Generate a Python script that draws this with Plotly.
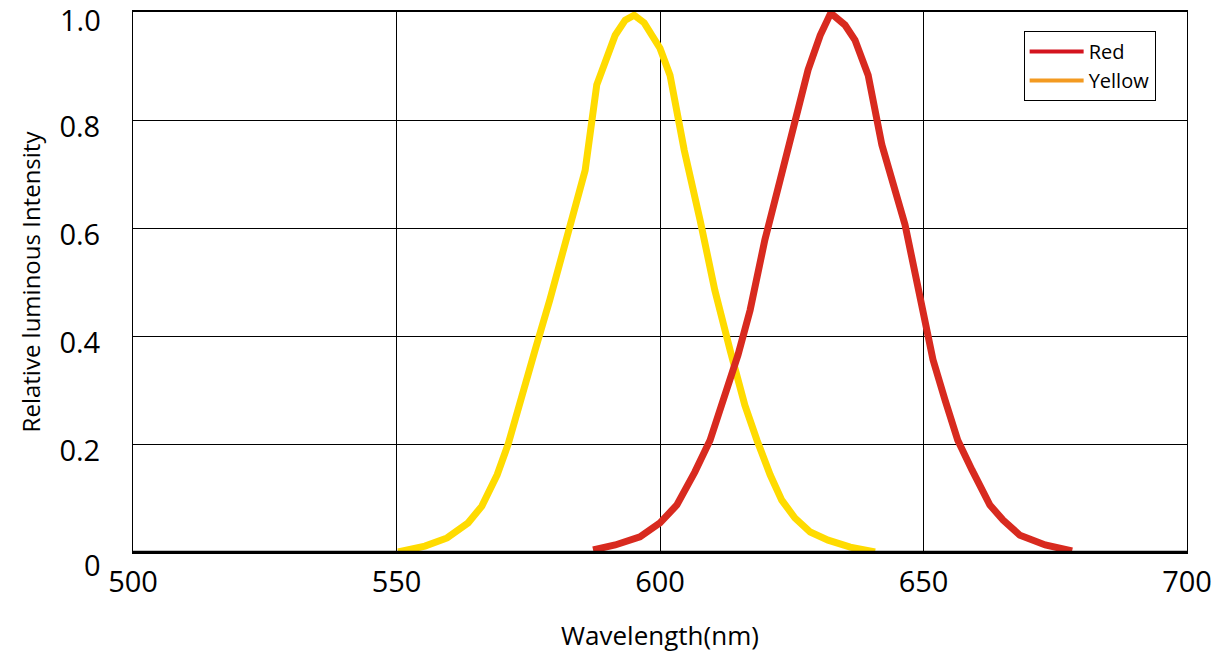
import plotly.graph_objects as go

# Spectral response, wavelength in nm vs relative luminous intensity
yellow_nm = [550.3, 555.4, 559.6, 563.6, 566.2, 569.1, 571.2, 573.4, 576.3, 579.1, 581.0, 582.9,
             585.8, 588.0, 589.6, 591.5, 593.4, 595.1, 597.0, 600.0, 601.9, 604.6, 607.6, 610.4,
             613.3, 616.1, 618.4, 620.9, 623.1, 625.6, 628.5, 631.9, 636.1, 640.8]
yellow_val = [0.0, 0.011, 0.026, 0.054, 0.085, 0.143, 0.2, 0.28, 0.374, 0.467, 0.537, 0.606,
              0.707, 0.865, 0.91, 0.957, 0.985, 0.994, 0.98, 0.933, 0.883, 0.744, 0.615, 0.485,
              0.374, 0.272, 0.207, 0.143, 0.096, 0.063, 0.037, 0.022, 0.009, 0.0]

red_nm = [587.3, 591.5, 596.2, 600.0, 603.2, 606.6, 609.5, 612.3, 614.8, 617.1, 619.9, 622.8,
          626.2, 628.1, 630.4, 632.4, 635.1, 637.0, 639.5, 642.1, 646.5, 649.3, 651.8, 654.1,
          656.5, 659.2, 662.6, 665.1, 668.3, 673.1, 678.2]
red_val = [0.004, 0.013, 0.028, 0.054, 0.087, 0.148, 0.207, 0.29, 0.365, 0.448, 0.578, 0.689,
           0.819, 0.893, 0.957, 0.998, 0.976, 0.948, 0.883, 0.754, 0.606, 0.467, 0.356, 0.281,
           0.207, 0.152, 0.087, 0.059, 0.031, 0.013, 0.002]

x_ticks = [500, 550, 600, 650, 700]
# inner y ticks are drawn by the axis; the two end labels are placed as annotations
y_ticks = [0, 0.2, 0.4, 0.6, 0.8, 1.0]
y_tick_text = ["", "0.2", "0.4", "0.6", "0.8", ""]
y_end_labels = [(0, "0"), (1.0, "1.0")]

FONT = "Open Sans, sans-serif"

fig = go.Figure()

fig.add_trace(go.Scatter(x=yellow_nm, y=yellow_val, mode="lines",
                         line=dict(color="#ffdb00", width=7), showlegend=False,
                         hoverinfo="skip"))
fig.add_trace(go.Scatter(x=red_nm, y=red_val, mode="lines",
                         line=dict(color="#d82a1f", width=7), showlegend=False,
                         hoverinfo="skip"))

# legend swatches
fig.add_trace(go.Scatter(x=[None], y=[None], mode="lines", name="Red",
                         line=dict(color="#d4141f", width=4)))
fig.add_trace(go.Scatter(x=[None], y=[None], mode="lines", name="Yellow",
                         line=dict(color="#f39a21", width=4)))

fig.update_layout(
    width=1221, height=653,
    margin=dict(l=133, r=34, t=12, b=101),
    paper_bgcolor="white", plot_bgcolor="white",
    font=dict(family=FONT, color="black"),
    legend=dict(x=0.845, y=0.965, xanchor="left", yanchor="top",
                bgcolor="white", bordercolor="black", borderwidth=1,
                font=dict(size=20, family=FONT), itemwidth=54, tracegroupgap=0),
    xaxis=dict(range=[500, 700], tickvals=x_ticks, ticktext=[str(v) for v in x_ticks],
               showgrid=True, gridcolor="black", gridwidth=1,
               showline=True, linecolor="black", linewidth=2, mirror=True,
               zeroline=False, ticks="", tickfont=dict(size=29, family=FONT),
               ticklabelstandoff=3, automargin=False,
               title=dict(text="Wavelength(nm)", font=dict(size=26, family=FONT), standoff=28)),
    yaxis=dict(range=[0, 1], tickvals=y_ticks, ticktext=y_tick_text,
               showgrid=True, gridcolor="black", gridwidth=1,
               showline=True, linecolor="black", linewidth=1, mirror=True,
               zeroline=False, ticks="", tickfont=dict(size=29, family=FONT),
               ticklabelstandoff=26, ticklabelshift=7, automargin=False,
               title=dict(text="Relative luminous Intensity", font=dict(size=24, family=FONT),
                          standoff=12)),
)

# end labels of the intensity axis: "0" drops below the baseline, "1.0" sits just under the top
fig.add_annotation(x=0, xref="paper", y=y_end_labels[0][0], yref="y", text=y_end_labels[0][1],
                   showarrow=False, xanchor="right", yanchor="top", xshift=-30, yshift=9,
                   font=dict(size=29, family=FONT))
fig.add_annotation(x=0, xref="paper", y=y_end_labels[1][0], yref="y", text=y_end_labels[1][1],
                   showarrow=False, xanchor="right", yanchor="middle", xshift=-30, yshift=-7,
                   font=dict(size=29, family=FONT))

fig.add_shape(type="line", xref="paper", yref="y", x0=0, x1=1, y0=0, y1=0,
              line=dict(color="black", width=2.5))

fig.write_html("out.html")
